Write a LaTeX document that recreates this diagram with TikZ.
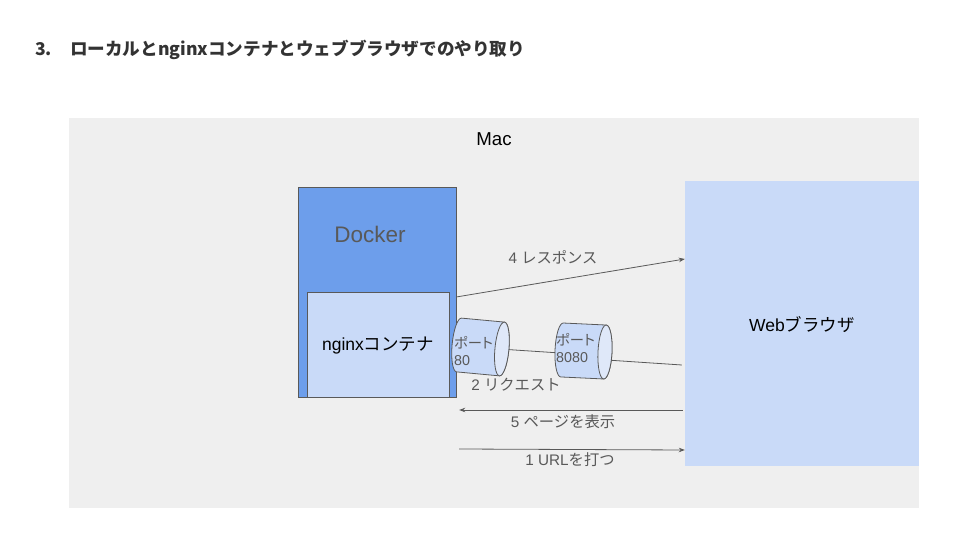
\documentclass[tikz,border=0pt]{standalone}
\usepackage{fontspec}
\setmainfont{Liberation Sans}
\newfontfamily\jp{Noto Sans CJK JP}
\newfontfamily\jpp[RawFeature=+palt]{Noto Sans CJK JP}
\usetikzlibrary{arrows.meta,calc}
\definecolor{macgray}{HTML}{EFEFEF}
\definecolor{dockerblue}{HTML}{6D9EEB}
\definecolor{lightblue}{HTML}{C9DAF8}
\definecolor{endblue}{HTML}{DFE8F9}
\definecolor{linegray}{HTML}{595959}
\definecolor{titlegray}{HTML}{333333}
\tikzset{
  box/.style={draw=linegray, line width=0.9pt, inner sep=0pt},
  lbl/.style={text=linegray, font=\fontsize{15.3}{18}\selectfont, inner sep=0pt},
  conn/.style={draw=linegray, line width=0.8pt},
  arr/.style={conn, -{Stealth[length=6pt,width=4.5pt]}},
  cylline/.style={draw=linegray, line width=0.8pt},
  porttext/.style={text=linegray, font=\fontsize{14.3}{17}\selectfont, align=left, anchor=west, inner sep=0pt}
}
\newcommand{\portcyl}[4]{% name, x, y, angle
  \begin{scope}[shift={(#2,#3)}, rotate=#4]
    \filldraw[cylline, fill=lightblue] (-21.5,27) -- (21.5,27)
      arc[start angle=90, end angle=-90, x radius=7, y radius=27]
      -- (-21.5,-27)
      arc[start angle=270, end angle=90, x radius=7, y radius=27] -- cycle;
    \filldraw[cylline, fill=endblue] (21.5,0) ellipse[x radius=7, y radius=27];
    \coordinate (#1w) at (-28.5,0);
    \coordinate (#1e) at (28.5,0);
    \coordinate (#1se) at (28,-8);
  \end{scope}}
\begin{document}
\begin{tikzpicture}[x=1pt,y=1pt]
\useasboundingbox (0,0) rectangle (960,540);
% title
\node[anchor=west, inner sep=0pt, font=\jp\bfseries\fontsize{17.6}{22}\selectfont, text=titlegray] (title) at (35,490) {3.\hspace{18pt}ローカルとnginxコンテナとウェブブラウザでのやり取り};
% Mac
\fill[macgray] (69,32) rectangle (919,422);
\node[inner sep=0pt, font=\fontsize{18.67}{22}\selectfont] (mac) at (494,401) {Mac};
% Docker
\draw[box, fill=dockerblue] (298,143) rectangle (456,353);
\node[inner sep=0pt, minimum width=158pt, minimum height=210pt] (docker) at (377,248) {};
\node[inner sep=0pt, text=linegray, font=\fontsize{22.5}{26}\selectfont] (dockerlbl) at (370,306) {Docker};
% nginx
\node[box, fill=lightblue, minimum width=142pt, minimum height=105pt] (nginx) at (378,195.5) {};
\node[inner sep=0pt, font=\fontsize{17.5}{21}\selectfont] (nginxlbl) at (378,194) {nginx{\jp コンテナ}};
% Web browser
\node[fill=lightblue, inner sep=0pt, minimum width=234pt, minimum height=285pt] (web) at (802,216.5) {};
\node[inner sep=0pt, font=\fontsize{17.5}{21}\selectfont] (weblbl) at (802,215) {Web{\jp ブラウザ}};
% ports
\portcyl{c1}{480.5}{193}{-5.3}
\portcyl{c2}{583.5}{189}{-2.7}
\node[porttext] (t1) at (454,188.5) {{\jpp ポート}\\80};
\node[porttext] (t2) at (556,192) {{\jpp ポート}\\8080};
% request lines
\draw[conn] (c1e) -- ([yshift=-3pt]c2w);
\draw[conn] (c2se) -- ([xshift=-3pt]web.west |- 0,175);
\node[lbl] (l2) at (516,155) {2 {\jp リクエスト}};
% response
\draw[arr] (docker.east |- 0,243) -- (web.west |- 0,281);
\node[lbl] (l4) at (553,283) {4 {\jp レスポンス}};
% show page
\draw[arr] ([xshift=-2pt]web.west |- 0,130) -- ([xshift=3pt]docker.east |- 0,130);
\node[lbl] (l5) at (563,118) {5 {\jp ページを表示}};
% type URL
\draw[arr] ([xshift=3pt]docker.east |- 0,91) -- (web.west |- 0,90);
\node[lbl] (l1) at (570,80) {1 URL{\jp を打つ}};
\end{tikzpicture}
\end{document}
